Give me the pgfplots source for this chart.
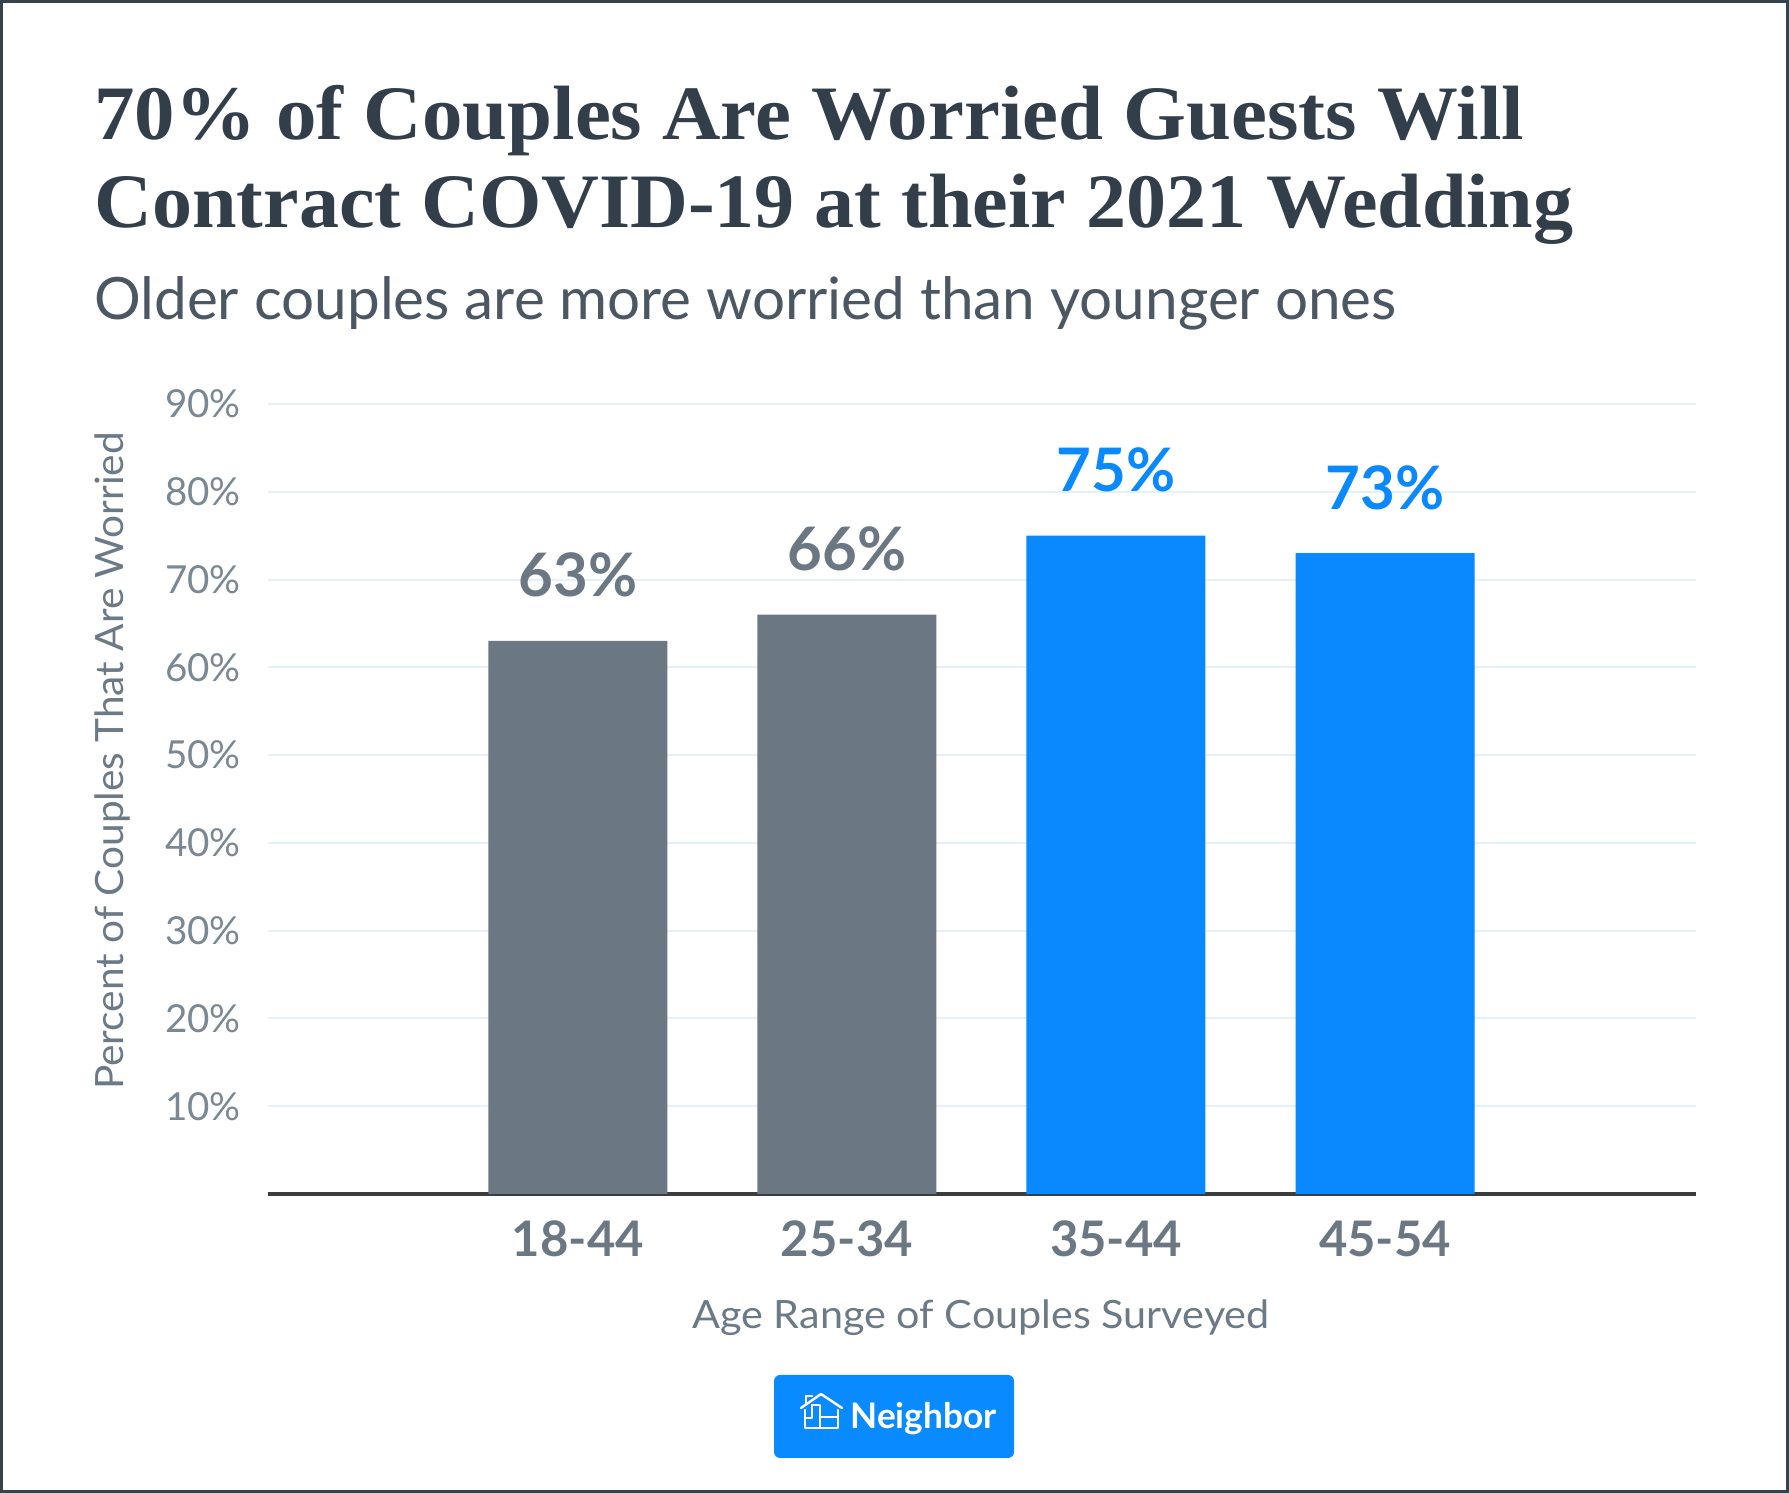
\documentclass[border=0pt]{standalone}
\usepackage{pgfplots}
\pgfplotsset{compat=1.18}
\usepackage{fontspec}
\setmainfont{Lato}
\newfontfamily\titlefont{Liberation Serif}
\definecolor{titlec}{HTML}{323E4A}
\definecolor{subc}{HTML}{4B5763}
\definecolor{tickc}{HTML}{7A8894}
\definecolor{ylabc}{HTML}{6B7A86}
\definecolor{barg}{HTML}{6B7884}
\definecolor{barb}{HTML}{0989FD}
\definecolor{axisc}{HTML}{3C3C3C}
\definecolor{gridc}{HTML}{E4F1FA}
\definecolor{framec}{HTML}{37424D}
\definecolor{logoc}{HTML}{0A8AFF}
\begin{document}
\begin{tikzpicture}
\useasboundingbox (0,0) rectangle (894.5pt,746.5pt);
\draw[framec, line width=1.5pt] (0.75pt,0.75pt) rectangle (893.75pt,745.75pt);
\node[anchor=base west, inner sep=0, font=\titlefont\bfseries\fontsize{38.5}{44}\selectfont, text=titlec] at (47pt,676.5pt) {\scalebox{1.05}[1]{70\% of Couples Are Worried Guests Will}};
\node[anchor=base west, inner sep=0, font=\titlefont\bfseries\fontsize{38.5}{44}\selectfont, text=titlec] at (47pt,632.5pt) {\scalebox{1.04}[1]{Contract COVID-19 at their 2021 Wedding}};
\node[anchor=base west, inner sep=0, font=\fontsize{29.2}{34}\selectfont, text=subc] at (47pt,586.5pt) {Older couples are more worried than younger ones};
\begin{axis}[
  at={(134pt,149.5pt)}, anchor=south west,
  scale only axis, width=714pt, height=395pt,
  xmin=-1.152, xmax=4.156, ymin=0, ymax=90,
  ytick={10,20,...,90}, yticklabel={\pgfmathprintnumber{\tick}\%},
  xtick={0,1,2,3}, xticklabels={18-44,25-34,35-44,45-54},
  major tick length=0,
  axis x line*=bottom, axis y line*=left,
  y axis line style={draw=none},
  x axis line style={draw=axisc, line width=2pt, -},
  ymajorgrids, grid style={draw=gridc, line width=1pt},
  ybar, bar width=89.5pt, bar shift=0pt,
  /pgf/number format/assume math mode=true,
  yticklabel style={font=\fontsize{19.3}{21}\selectfont, text=tickc, anchor=east, xshift=-10pt},
  xticklabel style={font=\bfseries\fontsize{24.5}{27}\selectfont, text=barg, anchor=base, yshift=-31.5pt},
  nodes near coords={\pgfmathprintnumber{\pgfplotspointmeta}\%},
  every node near coord/.append style={font=\bfseries\fontsize{30}{32}\selectfont, anchor=base, inner sep=0pt, yshift=22pt},
]
\addplot[fill=barg, draw=none, every node near coord/.append style={text=barg}] coordinates {(0,63) (1,66)};
\addplot[fill=barb, draw=none, every node near coord/.append style={text=barb}] coordinates {(2,75) (3,73)};
\end{axis}
\node[rotate=90, text=ylabc, font=\fontsize{19.5}{21}\selectfont] at (56pt,366pt) {\scalebox{1.04}[1]{Percent of Couples That Are Worried}};
\node[text=ylabc, font=\fontsize{19.5}{21}\selectfont] at (490.5pt,87.5pt) {\scalebox{1.06}[1]{Age Range of Couples Surveyed}};
\fill[logoc, rounded corners=3pt] (387pt,17.5pt) rectangle (507pt,59pt);
\node[anchor=base west, inner sep=0, text=white, font=\bfseries\fontsize{17.6}{20}\selectfont] at (425pt,32pt) {Neighbor};
\begin{scope}[draw=white, line width=1.2pt, line cap=round, line join=round]
\draw (402.5pt,41.5pt) -- (402.5pt,32.5pt) -- (419pt,32.5pt) -- (419pt,41.5pt);
\draw (400.5pt,42.5pt) -- (410.5pt,49.5pt) -- (421pt,42.5pt);
\draw (403pt,45pt) -- (403pt,48.5pt) -- (406pt,48.5pt);
\draw (410pt,32.5pt) -- (410pt,44pt) -- (406pt,44pt) -- (406pt,37.5pt) -- (402.5pt,37.5pt);
\draw (410pt,38pt) -- (419pt,38pt);
\end{scope}
\end{tikzpicture}
\end{document}
